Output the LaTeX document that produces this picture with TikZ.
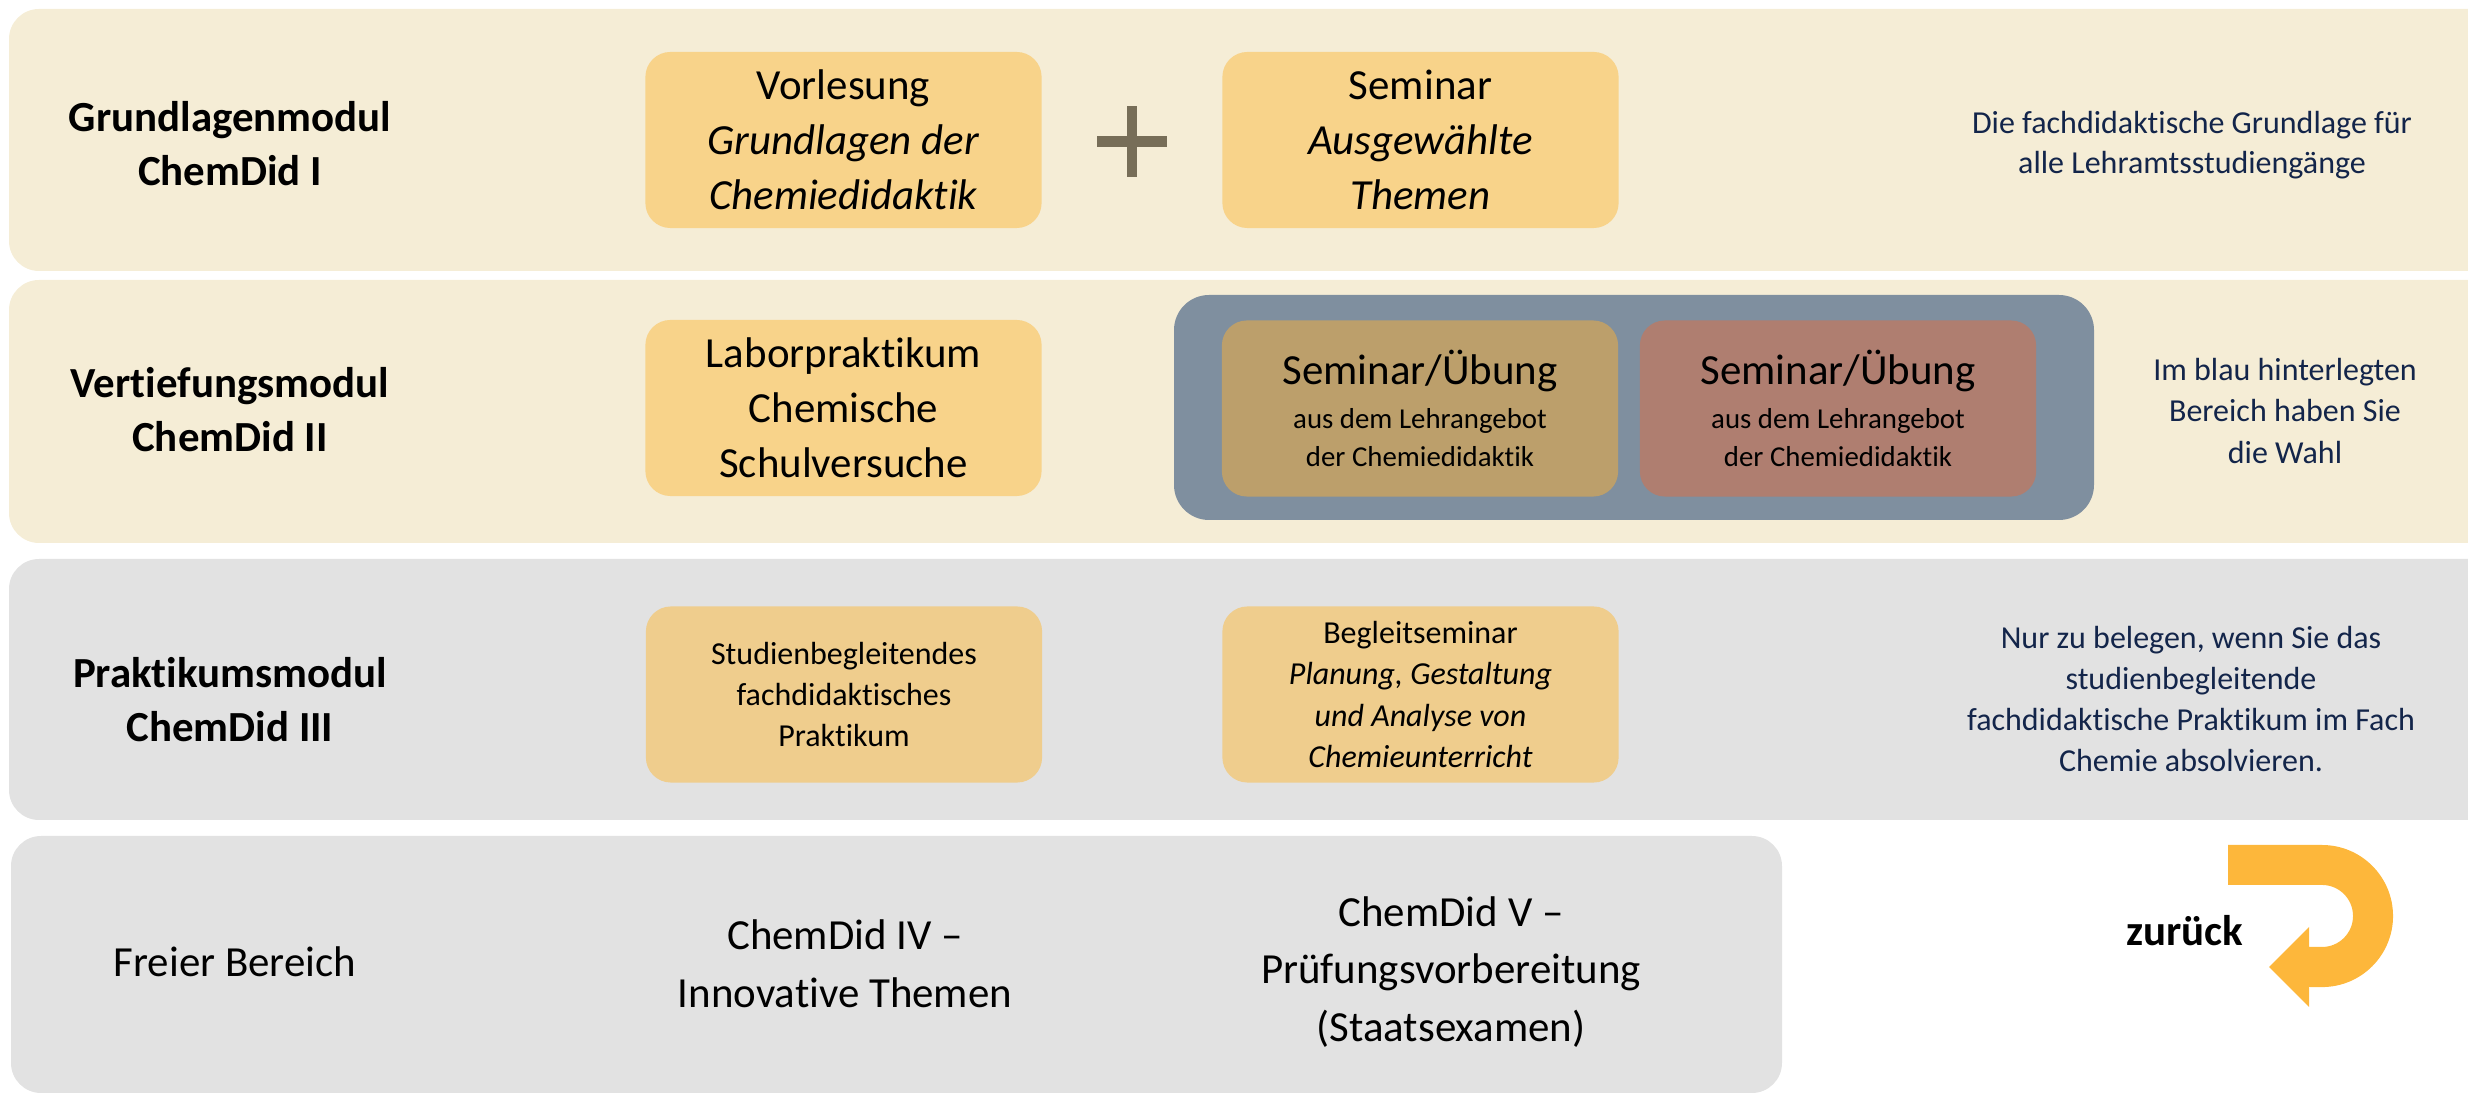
\documentclass[tikz,border=0pt]{standalone}
\usepackage{fontspec}
\setmainfont{Carlito}[Ligatures=NoCommon]
\definecolor{rowcream}{HTML}{F5EDD6}
\definecolor{rowgray}{HTML}{E2E2E2}
\definecolor{boxyellow}{HTML}{F8D38A}
\definecolor{boxpale}{HTML}{EFCD8D}
\definecolor{choiceblue}{HTML}{7F8F9F}
\definecolor{choicegold}{HTML}{BC9F6B}
\definecolor{choicered}{HTML}{AF7E70}
\definecolor{plusgray}{HTML}{776E58}
\definecolor{navytext}{HTML}{13254A}
\definecolor{arroworange}{HTML}{FDB73B}
\newcommand{\fbig}{\fontsize{12.2}{15.6}\selectfont}
\newcommand{\fmid}{\fontsize{9.1}{11.7}\selectfont}
\newcommand{\fsmall}{\fontsize{8.2}{10.8}\selectfont}
\tikzset{
  band/.style={rounded corners=0.3cm},
  modbox/.style={rounded corners=0.25cm, inner sep=0pt, align=center,
    minimum width=3.96cm, minimum height=1.76cm},
  modlabel/.style={inner sep=0pt, align=center, font=\fontsize{12.2}{15.4}\selectfont\bfseries},
  note/.style={inner sep=0pt, align=center, text=navytext, font=\fmid},
  plain/.style={inner sep=0pt, align=center, font=\fontsize{12.2}{16.4}\selectfont}
}
\begin{document}
\begin{tikzpicture}[x=0.01cm,y=-0.01cm]
\useasboundingbox (0,0) rectangle (2468,1095);
% row bands
\fill[rowcream, band] (9,9) rectangle (2520,271);
\fill[rowcream, band] (9,280) rectangle (2520,543);
\fill[rowgray, band] (9,559) rectangle (2520,820);
\fill[rowgray, band] (11,836) rectangle (1782,1093);
% row 1
\node[modlabel] (l1) at (230,144) {Grundlagenmodul\\ChemDid I};
\node[modbox, fill=boxyellow, font=\fbig] (vorl) at (843.5,140)
  {Vorlesung\\\textit{Grundlagen der}\\\textit{Chemiedidaktik}};
\node[modbox, fill=boxyellow, font=\fbig] (sem1) at (1420.5,140)
  {Seminar\\\textit{Ausgewählte}\\\textit{Themen}};
\fill[plusgray] (1127,106) rectangle (1137,177);
\fill[plusgray] (1097,136) rectangle (1167,147);
\node[note, font=\fontsize{9.1}{11.3}\selectfont] (n1) at (2192,145)
  {Die fachdidaktische Grundlage für\\alle Lehramtsstudiengänge};
% row 2
\node[modlabel] (l2) at (230,410) {Vertiefungsmodul\\ChemDid II};
\node[modbox, fill=boxyellow, font=\fbig] (labor) at (843.5,408)
  {Laborpraktikum\\Chemische\\Schulversuche};
\fill[choiceblue, rounded corners=0.35cm] (1174,295) rectangle (2094,520);
\node[modbox, fill=choicegold, font=\fsmall] (wahl1) at (1420,408.5)
  {{\fontsize{12.2}{12.5}\selectfont Seminar/Übung}\\[1.7pt]aus dem Lehrangebot\\der Chemiedidaktik};
\node[modbox, fill=choicered, font=\fsmall] (wahl2) at (1838,408.5)
  {{\fontsize{12.2}{12.5}\selectfont Seminar/Übung}\\[1.7pt]aus dem Lehrangebot\\der Chemiedidaktik};
\node[note] (n2) at (2285,411)
  {Im blau hinterlegten\\Bereich haben Sie\\die Wahl};
% row 3
\node[modlabel] (l3) at (230,700) {Praktikumsmodul\\ChemDid III};
\node[modbox, fill=boxpale, font=\fmid] (studien) at (844,694.5)
  {Studienbegleitendes\\fachdidaktisches\\Praktikum};
\node[modbox, fill=boxpale, font=\fmid] (begleit) at (1420.5,694.5)
  {Begleitseminar\\\textit{Planung, Gestaltung}\\\textit{und Analyse von}\\\textit{Chemieunterricht}};
\node[note] (n3) at (2191,699)
  {Nur zu belegen, wenn Sie das\\studienbegleitende\\fachdidaktische Praktikum im Fach\\Chemie absolvieren.};
% row 4
\node[plain] (frei) at (235,962) {Freier Bereich};
\node[plain] (cd4) at (845,964) {ChemDid IV –\\Innovative Themen};
\node[plain] (cd5) at (1451,972) {ChemDid V –\\Prüfungsvorbereitung\\(Staatsexamen)};
% back arrow
\node[inner sep=0pt, font=\fontsize{12.2}{14}\selectfont\bfseries] (zurueck) at (2185,931) {zurück};
\fill[arroworange] (2228,845) -- (2322,845)
  arc[start angle=90, end angle=-90, radius=0.71cm]
  -- (2309,987) -- (2309,1007) -- (2269,967) -- (2309,927) -- (2309,947) -- (2322,947)
  arc[start angle=-90, end angle=90, radius=0.31cm]
  -- (2228,885) -- cycle;
\end{tikzpicture}
\end{document}
